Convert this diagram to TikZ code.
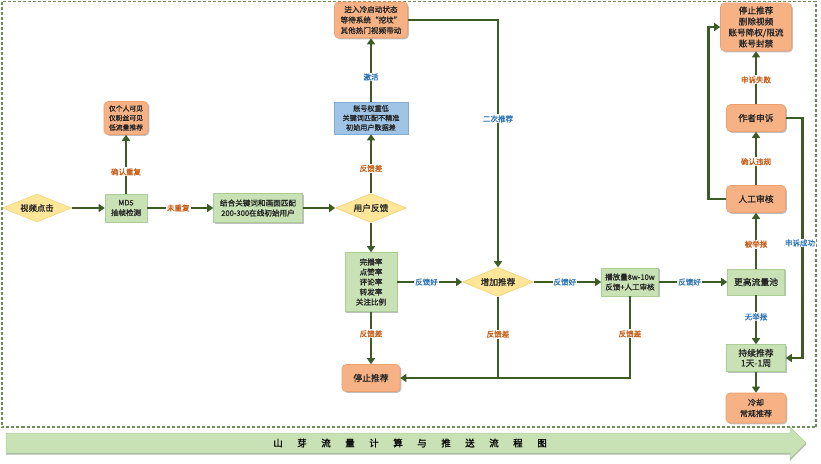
\documentclass[tikz,border=0pt]{standalone}
\usepackage{fontspec}
\setmainfont{Noto Sans CJK SC}[BoldFont={Noto Sans CJK SC}, BoldFeatures={FakeBold=1.1}]
\usetikzlibrary{arrows.meta,shapes.geometric,shadows}

\definecolor{flow}{RGB}{60,92,38}
\definecolor{gfill}{RGB}{200,226,182}
\definecolor{gline}{RGB}{170,205,150}
\definecolor{ofill}{RGB}{246,178,132}
\definecolor{oline}{RGB}{236,160,110}
\definecolor{bfill}{RGB}{160,196,230}
\definecolor{bline}{RGB}{130,170,210}
\definecolor{yfill}{RGB}{255,230,153}
\definecolor{yline}{RGB}{240,210,120}
\definecolor{labo}{RGB}{200,92,20}
\definecolor{labb}{RGB}{46,117,182}
\definecolor{frame}{RGB}{110,140,90}

\tikzset{
  box/.style={inner sep=1pt, align=center, text=black!85,
    drop shadow={shadow xshift=1.3pt, shadow yshift=-1.3pt, opacity=0.25, fill=black}},
  gbox/.style={box, rectangle, fill=gfill, draw=gline, line width=0.6pt},
  obox/.style={box, rectangle, rounded corners=4pt, fill=ofill, draw=oline, line width=0.6pt},
  bbox/.style={box, rectangle, fill=bfill, draw=bline, line width=0.6pt},
  dia/.style={diamond, shape aspect=2.4, inner sep=0pt, align=center, text=black!85,
    fill=yfill, draw=yline, line width=0.6pt},
  fs/.style={font=\fontsize{#1}{11}\selectfont\bfseries},
  lab/.style={fill=white, inner sep=1pt, font=\fontsize{7.5}{9}\selectfont\bfseries},
  labO/.style={lab, text=labo},
  labB/.style={lab, text=labb},
  flowline/.style={draw=flow, line width=2.8pt},
  flowarrow/.style={flowline, -{Triangle[length=6pt,width=8pt]}},
}

\begin{document}
\begin{tikzpicture}[x=1pt, y=-1pt]
\useasboundingbox (0,0) rectangle (821,463);

% outer dashed frame
\draw[frame, line width=1.2pt, dash pattern=on 3pt off 2pt] (2,1.5) rectangle (816,427);

% title arrow
\path[fill=gfill, draw=gline, line width=0.5pt,
  drop shadow={shadow xshift=0pt, shadow yshift=-1.5pt, opacity=0.3, fill=black}]
  (6,433) -- (790,433) -- (790,427) -- (806,443) -- (790,459) -- (790,453) -- (6,453) -- cycle;
\node[font=\fontsize{9.5}{11}\selectfont\bfseries] (title) at (410,443)
  {山\hspace{14.5pt}芽\hspace{14.5pt}流\hspace{14.5pt}量\hspace{14.5pt}计\hspace{14.5pt}算\hspace{14.5pt}与\hspace{14.5pt}推\hspace{14.5pt}送\hspace{14.5pt}流\hspace{14.5pt}程\hspace{14.5pt}图};

% nodes, left part
\node[dia, minimum width=69pt, minimum height=28pt, fs=8.3] (click) at (37,208) {视频点击};
\node[gbox, minimum width=42pt, minimum height=28pt, fs=7.5] (md5) at (126,208) {MD5\\[-1pt]抽帧检测};
\node[obox, minimum width=44pt, minimum height=33pt, fs=6.8] (limited) at (126,118) {仅个人可见\\[-1.5pt]仅粉丝可见\\[-1.5pt]低流量推荐};
\node[gbox, minimum width=89pt, minimum height=29pt, fs=7.6] (match) at (258,208) {结合关键词和画面匹配\\[-1pt]200-300在线初始用户};
\node[dia, minimum width=71pt, minimum height=29pt, fs=8.7] (fb) at (371,208) {用户反馈};
\node[bbox, minimum width=74pt, minimum height=32pt, fs=7.1] (weight) at (371,118) {账号权重低\\[-1.5pt]关键词匹配不精准\\[-1.5pt]初始用户数据差};
\node[obox, minimum width=73pt, minimum height=36pt, fs=7.6] (cold) at (371,20) {进入冷启动状态\\[-0.5pt]等待系统“挖坟”\\[-0.5pt]其他热门视频带动};
\node[gbox, minimum width=52pt, minimum height=59pt, fs=7.6] (metrics) at (371,282) {完播率\\[-1pt]点赞率\\[-1pt]评论率\\[-1pt]转发率\\[-1pt]关注比例};
\node[obox, minimum width=58pt, minimum height=27pt, fs=8.8] (stop) at (371,378) {停止推荐};
\node[dia, minimum width=71pt, minimum height=29pt, fs=8.7] (inc) at (498,282) {增加推荐};
\node[gbox, minimum width=57pt, minimum height=28pt, fs=7.5] (play) at (630,282) {播放量8w-10w\\[-1pt]反馈+人工审核};

% nodes, right column
\node[gbox, minimum width=57pt, minimum height=26pt, fs=8.8] (pool) at (756,282) {更高流量池};
\node[obox, minimum width=59pt, minimum height=27pt, fs=8.8] (review) at (756,199) {人工审核};
\node[obox, minimum width=59pt, minimum height=27pt, fs=8.8] (appeal) at (756,118) {作者申诉};
\node[obox, minimum width=71pt, minimum height=48pt, fs=8.6] (ban) at (756,27) {停止推荐\\删除视频\\账号降权/限流\\账号封禁};
\node[gbox, minimum width=59pt, minimum height=27pt, fs=8.8] (keep) at (756,358) {持续推荐\\[-1pt]1天-1周};
\node[obox, minimum width=60pt, minimum height=30pt, fs=8] (cool) at (756,408) {冷却\\常规推荐};

% connectors
\draw[flowarrow] (click) -- (md5);
\draw[flowarrow] (md5) -- node[labO, pos=0.37] {确认重复} (limited);
\draw[flowarrow] (md5) -- node[labO, pos=0.47] {未重复} (match);
\draw[flowarrow] (match) -- (fb);
\draw[flowarrow] (fb) -- node[labO, pos=0.42] {反馈差} (weight);
\draw[flowarrow] (weight) -- node[labB, pos=0.39] {激活} (cold);
\draw[flowarrow] (cold.east) -| node[labB, pos=0.70] {二次推荐} (inc.north);
\draw[flowarrow] (fb) -- (metrics);
\draw[flowarrow] (metrics) -- node[labB, pos=0.45] {反馈好} (inc);
\draw[flowarrow] (metrics) -- node[labO, pos=0.42] {反馈差} (stop);
\draw[flowline] (inc.south) -- node[labO, pos=0.46] {反馈差} (inc.south |- stop.east);
\draw[flowarrow] (play.south) |- node[labO, pos=0.23] {反馈差} (stop.east);
\draw[flowarrow] (inc) -- node[labB, pos=0.46] {反馈好} (play);
\draw[flowarrow] (play) -- node[labB, pos=0.45] {反馈好} (pool);
\draw[flowarrow] (pool) -- node[labO, pos=0.44] {被举报} (review);
\draw[flowarrow] (pool) -- node[labB, pos=0.44] {无举报} (keep);
\draw[flowarrow] (review) -- node[labO, pos=0.44] {确认违规} (appeal);
\draw[flowarrow] (appeal) -- node[labO, pos=0.46] {申诉失败} (ban);
\draw[flowarrow] (review.west) -- ++(-18,0) |- (ban.west);
\draw[flowarrow] (appeal.east) -- ++(17,0) |- (keep.east);
\node[labB] (appealok) at (800,243) {申诉成功};
\draw[flowarrow] (keep) -- (cool);
\end{tikzpicture}
\end{document}
